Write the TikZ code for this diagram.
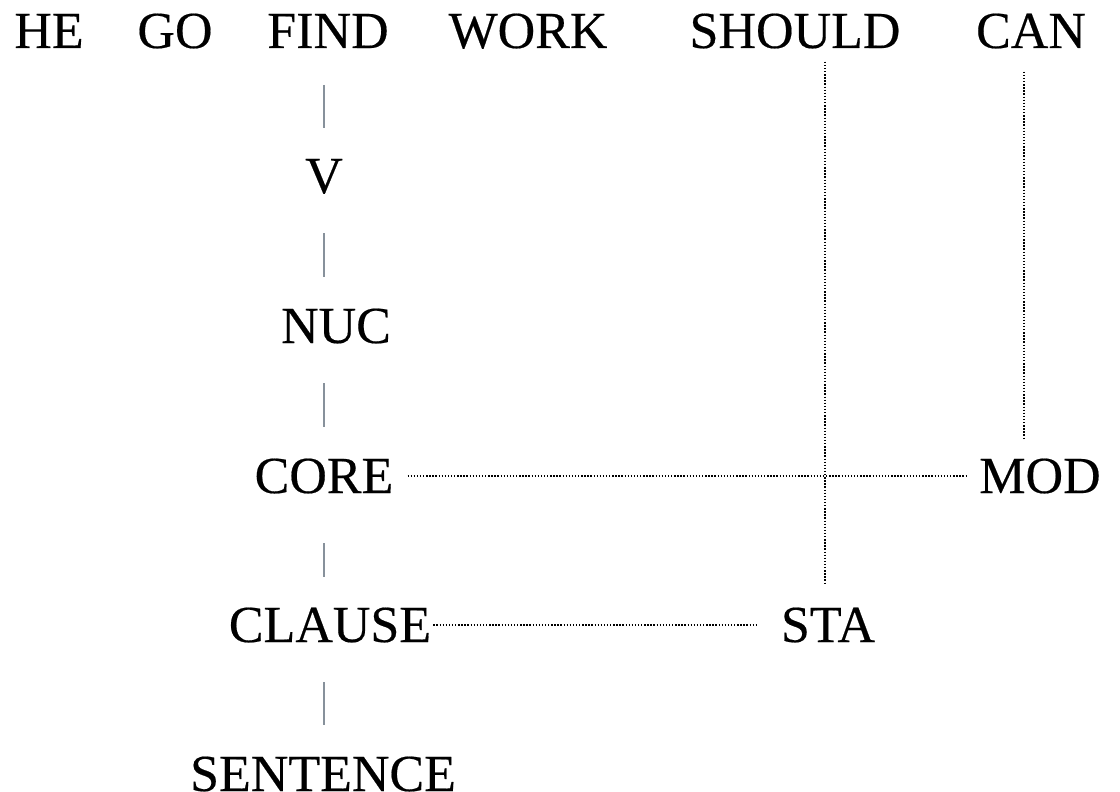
\documentclass[tikz,border=0pt]{standalone}
\usepackage{fontspec}
\newfontfamily\wordfont[FakeBold=0.35]{Liberation Serif}
\definecolor{barcol}{RGB}{135,145,155}
\begin{document}
\begin{tikzpicture}[x=1pt,y=-1pt,
  word/.style={inner sep=0pt, anchor=base, font=\fontsize{52}{60}\wordfont},
  bar/.style={draw=barcol, line width=2.6pt},
  dots/.style={line width=1.4pt, dash pattern=on 1.4pt off 1.7pt}]
\useasboundingbox[fill=white] (0,0) rectangle (1120,792);

% words of the sentence
\node[word] (HE) at (49,48) {HE};
\node[word] (GO) at (175,48) {GO};
\node[word] (FIND) at (328,48) {FIND};
\node[word] (WORK) at (528,48) {WORK};
\node[word] (SHOULD) at (795,48) {SHOULD};
\node[word] (CAN) at (1031,48) {CAN};

% layered structure
\node[word] (V) at (324,193) {V};
\node[word] (NUC) at (336,343) {NUC};
\node[word] (CORE) at (324,493) {CORE};
\node[word] (CLAUSE) at (330,642) {CLAUSE};
\node[word] (SENTENCE) at (323,791) {SENTENCE};
\node[word] (MOD) at (1040,493) {MOD};
\node[word] (STA) at (828,642) {STA};

% solid links down the spine
\draw[bar, shorten <=37pt, shorten >=65pt] (FIND.base -| V.base) -- (V.base);
\draw[bar, shorten <=40pt, shorten >=66pt] (V.base) -- (NUC.base -| V.base);
\draw[bar, shorten <=40pt, shorten >=66pt] (NUC.base -| V.base) -- (CORE.base -| V.base);
\draw[bar, shorten <=50pt, shorten >=65pt] (CORE.base -| V.base) -- (CLAUSE.base -| V.base);
\draw[bar, shorten <=40pt, shorten >=66pt] (CLAUSE.base -| V.base) -- (SENTENCE.base -| V.base);

% operators
\coordinate (sl) at ([xshift=-3pt]STA.north);
\draw[dots, shorten <=13pt, shorten >=22pt] (SHOULD.south -| sl) -- (sl);
\coordinate (cl) at ([xshift=-7pt]CAN.south);
\draw[dots, shorten <=23pt, shorten >=20pt] (cl) -- (cl |- MOD.north);
\draw[dots, shorten <=14pt, shorten >=11pt] (CORE.east) -- (MOD.west);
\draw[dots, shorten <=2pt, shorten >=22pt] (CLAUSE.east) -- (STA.west);
\end{tikzpicture}
\end{document}
